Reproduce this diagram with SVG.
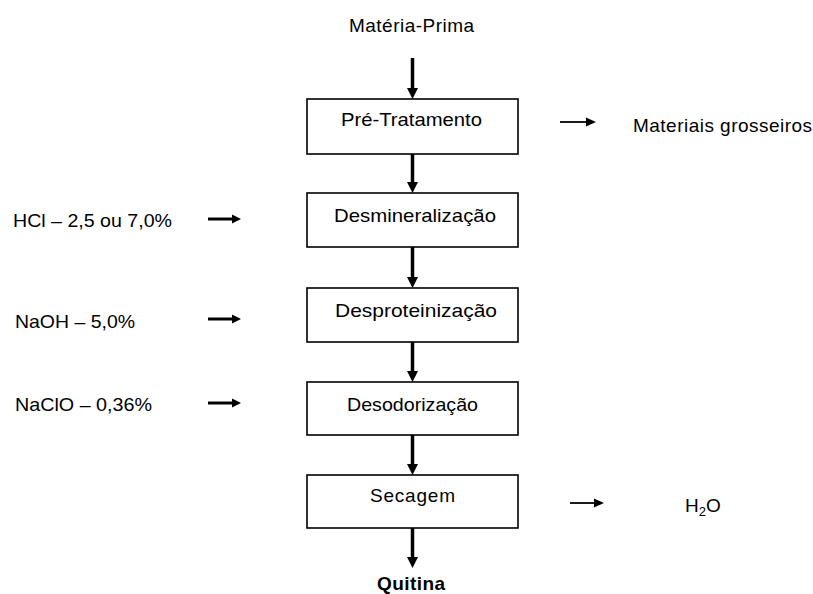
<svg xmlns="http://www.w3.org/2000/svg" width="813" height="594" viewBox="0 0 813 594">
<style>
.box{fill:#fff;stroke:#000;stroke-width:1.6}
.t{font-family:"Liberation Sans",Arial,sans-serif;font-size:19px;fill:#000}
.c{text-anchor:middle}
.v{stroke:#000;stroke-width:3.5;fill:none}
.h{stroke:#000;stroke-width:3;fill:none}
.hs{stroke:#000;stroke-width:1.8;fill:none}
.head{fill:#000}
</style>
<rect width="813" height="594" fill="#fff"/>
<g id="materia-prima"><text class="t" x="349" y="32" textLength="125" lengthAdjust="spacing">Matéria-Prima</text></g>
<g id="pre-tratamento"><rect class="box" x="307" y="99" width="211" height="55"/><text class="t" x="341" y="126" textLength="141" lengthAdjust="spacingAndGlyphs">Pré-Tratamento</text></g>
<g id="desmineralizacao"><rect class="box" x="307" y="193" width="211" height="54"/><text class="t" x="334" y="222" textLength="162" lengthAdjust="spacingAndGlyphs">Desmineralização</text></g>
<g id="desproteinizacao"><rect class="box" x="307" y="288" width="211" height="54"/><text class="t" x="335" y="317" textLength="162" lengthAdjust="spacingAndGlyphs">Desproteinização</text></g>
<g id="desodorizacao"><rect class="box" x="307" y="382" width="211" height="53"/><text class="t" x="347" y="411" textLength="131" lengthAdjust="spacingAndGlyphs">Desodorização</text></g>
<g id="secagem"><rect class="box" x="307" y="475" width="211" height="53"/><text class="t" x="370" y="502" textLength="85" lengthAdjust="spacing">Secagem</text></g>
<g id="quitina"><text class="t" x="377" y="590" font-weight="bold" textLength="68" lengthAdjust="spacing">Quitina</text></g>
<g id="hcl"><text class="t" x="13" y="227" textLength="159" lengthAdjust="spacingAndGlyphs">HCl – 2,5 ou 7,0%</text></g>
<g id="naoh"><text class="t" x="15" y="328" textLength="120" lengthAdjust="spacingAndGlyphs">NaOH – 5,0%</text></g>
<g id="naclo"><text class="t" x="15" y="411" textLength="137" lengthAdjust="spacingAndGlyphs">NaClO – 0,36%</text></g>
<g id="materiais"><text class="t" x="633" y="132" textLength="179" lengthAdjust="spacing">Materiais grosseiros</text></g>
<g id="h2o"><text class="t" x="685" y="512">H<tspan font-size="13" dy="4">2</tspan><tspan dy="-4">O</tspan></text></g>
<g id="connectors">
<line class="v" x1="412.5" y1="58" x2="412.5" y2="90"/><polygon class="head" points="407,88 418,88 412.5,99"/>
<line class="v" x1="412.5" y1="154" x2="412.5" y2="184"/><polygon class="head" points="407,182 418,182 412.5,193"/>
<line class="v" x1="412.5" y1="247" x2="412.5" y2="279"/><polygon class="head" points="407,277 418,277 412.5,288"/>
<line class="v" x1="412.5" y1="342" x2="412.5" y2="373"/><polygon class="head" points="407,371 418,371 412.5,382"/>
<line class="v" x1="412.5" y1="435" x2="412.5" y2="466"/><polygon class="head" points="407,464 418,464 412.5,475"/>
<line class="v" x1="412.5" y1="528" x2="412.5" y2="559"/><polygon class="head" points="407,557 418,557 412.5,568"/>
<line class="h" x1="208" y1="219" x2="234" y2="219"/><polygon class="head" points="232,214.5 241,219 232,223.5"/>
<line class="h" x1="208" y1="319" x2="234" y2="319"/><polygon class="head" points="232,314.5 241,319 232,323.5"/>
<line class="h" x1="208" y1="403" x2="234" y2="403"/><polygon class="head" points="232,398.5 241,403 232,407.5"/>
<line class="hs" x1="560" y1="122" x2="588" y2="122"/><polygon class="head" points="586,117.5 596,122 586,126.5"/>
<line class="hs" x1="570" y1="503" x2="596" y2="503"/><polygon class="head" points="594,498.5 604,503 594,507.5"/>
</g>
</svg>
